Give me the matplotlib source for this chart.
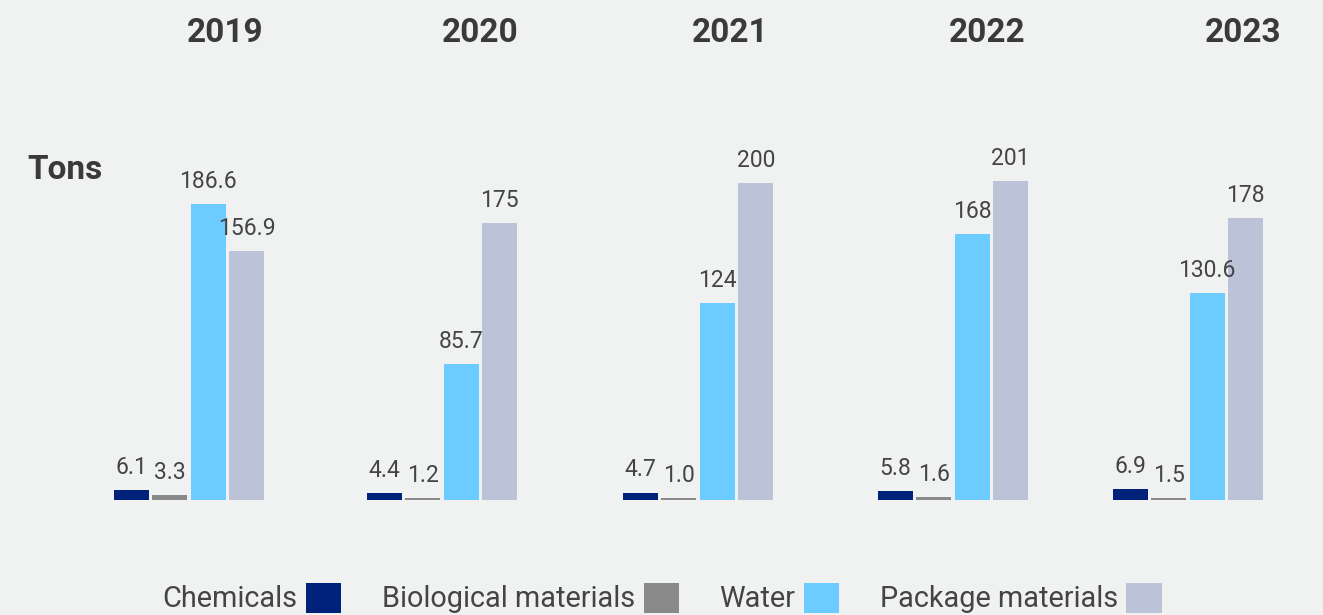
import numpy as np
import matplotlib
matplotlib.use("Agg")
import matplotlib.pyplot as plt
from matplotlib.patches import Patch

years = ["2019", "2020", "2021", "2022", "2023"]
series = ["Chemicals", "Biological materials", "Water", "Package materials"]
chemicals = [6.1, 4.4, 4.7, 5.8, 6.9]
biological = [3.3, 1.2, 1.0, 1.6, 1.5]
water = [186.6, 85.7, 124, 168, 130.6]
package = [156.9, 175, 200, 201, 178]

colors = ["#00217a", "#898989", "#6ccbff", "#bcc2d8"]
fmts = ["{:.1f}", "{:.1f}", "{:g}", "{:g}"]
BG = "#f0f2f2"
TXT = "#444444"

W, H = 1323, 615
fig = plt.figure(figsize=(W / 100, H / 100), dpi=100, facecolor=BG)
plt.rcParams["font.family"] = ["Roboto", "DejaVu Sans"]

# axes in pixel units horizontally, tons vertically (baseline at y=500px)
px_per_ton = 1.585
ymax = 210
ax = fig.add_axes([0, (H - 500) / H, 1, ymax * px_per_ton / H])
ax.set_facecolor(BG)
ax.set_xlim(0, W)
ax.set_ylim(0, ymax)
ax.axis("off")

group_x = np.array([189, 442, 698, 953, 1188])
year_x = [225, 480, 730, 987, 1243]
bar_w = 35
step = 38.5
offsets = (np.arange(4) - 1.5) * step

for k, vals in enumerate([chemicals, biological, water, package]):
    xs = group_x + offsets[k]
    bars = ax.bar(xs, vals, width=bar_w, color=colors[k], linewidth=0)
    for b, v in zip(bars, vals):
        ax.annotate(fmts[k].format(v), (b.get_x() + b.get_width() / 2, v),
                    xytext=(0, 8), textcoords="offset points",
                    ha="center", va="bottom", fontsize=16.5, color=TXT)

for x, y in zip(year_x, years):
    fig.text(x / W, 1 - 33 / H, y, ha="center", va="center",
             fontsize=24, fontweight="bold", color="#3a3a3a")

fig.text(27 / W, 1 - 170 / H, "Tons", ha="left", va="center",
         fontsize=24, fontweight="bold", color="#3a3a3a")

handles = [Patch(facecolor=c, edgecolor="none") for c in colors]
fig.legend(handles, series, loc="center", bbox_to_anchor=(662 / W, 1 - 598 / H),
           ncol=4, frameon=False, markerfirst=False, fontsize=20.8,
           handlelength=1.22, handleheight=1.22, handletextpad=0.3,
           columnspacing=1.4, labelcolor=TXT, borderpad=0)

fig.savefig("out.png", dpi=100, facecolor=BG)
